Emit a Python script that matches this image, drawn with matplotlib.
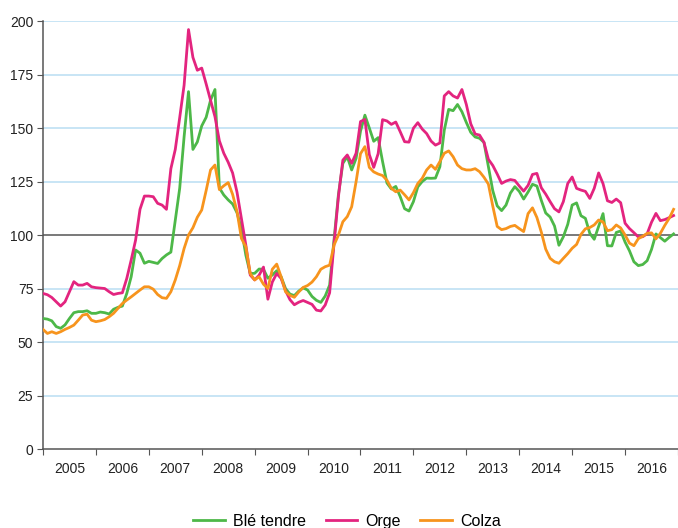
import matplotlib
matplotlib.use("Agg")
import matplotlib.pyplot as plt
import numpy as np

plt.rcParams["font.family"] = ["Liberation Sans", "DejaVu Sans"]

years = [str(y) for y in range(2005, 2017)]

# monthly index values, Jan 2005 - Dec 2016
ble_tendre = [
    61.0, 60.7, 59.9, 57.2, 56.4, 58.0, 61.0, 63.7, 64.2, 64.2, 64.6, 63.4,
    63.4, 64.0, 63.7, 63.1, 65.3, 66.2, 66.8, 72.7, 80.5, 93.0, 91.5, 86.8,
    87.7, 87.2, 86.7, 89.0, 90.7, 92.0, 106.9, 121.8, 145.9, 167.0, 140.0, 143.5,
    151.0, 155.0, 163.0, 168.0, 122.0, 118.7, 116.4, 114.5, 110.4, 102.8, 90.6, 82.0,
    82.1, 84.1, 84.0, 79.8, 81.3, 83.3, 80.5, 75.0, 72.4, 71.7, 73.8, 75.3,
    74.3, 71.3, 69.5, 68.5, 71.5, 76.6, 98.0, 119.0, 133.5, 136.6, 130.4, 135.8,
    148.5, 156.0, 150.0, 143.8, 145.5, 134.4, 124.3, 121.5, 122.7, 118.0, 112.3, 111.2,
    115.6, 122.5, 125.0, 126.6, 126.5, 126.6, 131.9, 149.0, 158.7, 158.1, 161.0, 157.6,
    152.6, 148.0, 145.8, 145.2, 143.3, 132.0, 120.7, 113.6, 111.4, 114.0, 119.6, 122.6,
    120.4, 116.8, 120.1, 123.7, 122.9, 116.2, 110.3, 108.4, 104.2, 95.2, 99.2, 105.0,
    114.0, 115.0, 109.0, 107.8, 100.8, 98.0, 104.0, 110.0, 95.0, 94.9, 101.2, 101.9,
    96.7, 92.6, 87.5, 85.7, 86.2, 88.0, 93.3, 100.5, 98.8, 97.1, 98.9, 100.5,
]
orge = [
    72.7, 72.1, 70.8, 68.8, 66.8, 68.8, 73.5, 78.2, 76.6, 76.6, 77.4, 75.8,
    75.4, 75.2, 75.0, 73.5, 72.2, 72.7, 73.0, 79.7, 88.3, 97.6, 112.0, 118.2,
    118.2, 117.9, 114.8, 114.0, 112.0, 131.0, 140.0, 154.8, 170.0, 196.0, 183.0, 177.0,
    178.0, 170.6, 163.0, 155.3, 144.0, 138.2, 134.0, 129.0, 120.0, 107.5, 95.3, 81.3,
    79.0, 81.2, 85.0, 70.0, 78.0, 82.0, 79.7, 74.0, 69.8, 67.4, 68.6, 69.4,
    68.5, 67.6, 64.9, 64.5, 67.3, 73.0, 96.0, 118.0, 135.0, 137.4, 133.5, 138.2,
    153.0, 154.0, 137.6, 131.6, 138.0, 153.9, 153.3, 151.7, 152.8, 148.3, 143.6, 143.4,
    149.9, 152.5, 149.5, 147.4, 143.9, 142.0, 143.0, 165.0, 167.0, 165.0, 164.0, 168.0,
    161.0, 152.0, 147.2, 146.7, 143.3, 135.4, 132.5, 128.5, 124.1, 125.2, 125.9, 125.5,
    122.9, 120.5, 123.2, 128.3, 128.8, 122.1, 119.1, 115.6, 112.3, 110.8, 115.6, 124.1,
    127.1, 121.8, 121.0, 120.4, 117.1, 121.8, 129.0, 124.0, 116.0, 115.2, 116.8, 115.1,
    105.5, 103.0, 101.1, 99.1, 99.2, 100.6, 106.0, 110.1, 106.7, 107.2, 108.1, 109.1,
]
colza = [
    55.9, 54.0, 54.8, 54.0, 54.8, 55.9, 56.8, 57.9, 60.2, 62.6, 63.0, 60.2,
    59.5, 59.9, 60.5, 61.8, 63.4, 65.7, 68.0, 69.6, 71.1, 72.7, 74.3, 75.8,
    75.8, 74.7, 72.2, 70.7, 70.4, 73.5, 79.0, 85.7, 93.7, 100.0, 103.4, 108.3,
    111.7, 120.8, 130.4, 132.7, 121.2, 123.0, 124.5, 119.0, 111.0, 98.4, 94.5, 82.0,
    79.0, 80.5, 77.0, 75.0, 84.0, 86.4, 80.5, 73.5, 71.8, 70.9, 73.4, 75.5,
    76.4, 78.0, 80.5, 84.0, 85.2, 85.9, 95.3, 100.0, 106.2, 108.6, 113.2, 124.9,
    138.0, 141.3, 131.6, 129.5, 128.5, 127.8, 125.6, 121.8, 120.2, 121.0, 118.8, 116.4,
    119.8, 124.1, 126.5, 130.4, 132.7, 130.7, 134.3, 138.2, 139.3, 136.6, 132.7, 131.0,
    130.4, 130.4, 131.0, 129.6, 127.0, 123.8, 113.5, 104.0, 102.5, 103.0, 104.0, 104.5,
    103.0, 101.6, 110.0, 112.7, 108.2, 101.4, 93.4, 89.1, 87.5, 86.8, 89.1, 91.3,
    93.8, 95.6, 100.3, 102.9, 103.5, 104.7, 107.0, 106.1, 102.0, 102.5, 104.7, 103.3,
    100.0, 96.2, 95.0, 98.3, 99.4, 100.8, 101.0, 98.2, 100.8, 104.5, 107.8, 112.0,
]

months = np.arange(len(ble_tendre))

fig = plt.figure(figsize=(6.78, 5.28), dpi=100)
ax = fig.add_axes([0.0634, 0.1496, 0.9366, 0.8106])

for v in range(25, 201, 25):
    if v != 100:
        ax.axhline(v, color="#b9def2", lw=1.1, zorder=0)
ax.axhline(100, color="#555555", lw=1.1, zorder=1)

ax.plot(months, ble_tendre, color="#4db848", lw=2.0, label="Blé tendre", zorder=3)
ax.plot(months, orge, color="#e3247f", lw=2.0, label="Orge", zorder=3)
ax.plot(months, colza, color="#f7941d", lw=2.0, label="Colza", zorder=3)

ax.set_xlim(0, 144)
ax.set_ylim(0, 200)
ax.set_yticks(range(0, 201, 25))
ax.set_xticks(range(0, 145, 12))
ax.set_xticklabels([])
ax.set_xticks(np.arange(6, 144, 12), minor=True)
ax.set_xticklabels(years, minor=True)
ax.tick_params(axis="x", which="major", length=4, color="#555555")
ax.tick_params(axis="x", which="minor", length=0, pad=9, labelsize=10, labelcolor="#222222")
ax.tick_params(axis="y", length=4, color="#555555", labelsize=10, labelcolor="#222222", pad=3)

for side in ("top", "right"):
    ax.spines[side].set_visible(False)
for side in ("left", "bottom"):
    ax.spines[side].set_color("#555555")
    ax.spines[side].set_linewidth(1.1)

fig.legend(loc="center", bbox_to_anchor=(0.512, 0.013), ncol=3, frameon=False,
           fontsize=11.5, handlelength=2.0, columnspacing=1.2, handletextpad=0.5)

fig.savefig("out.png", dpi=100)
